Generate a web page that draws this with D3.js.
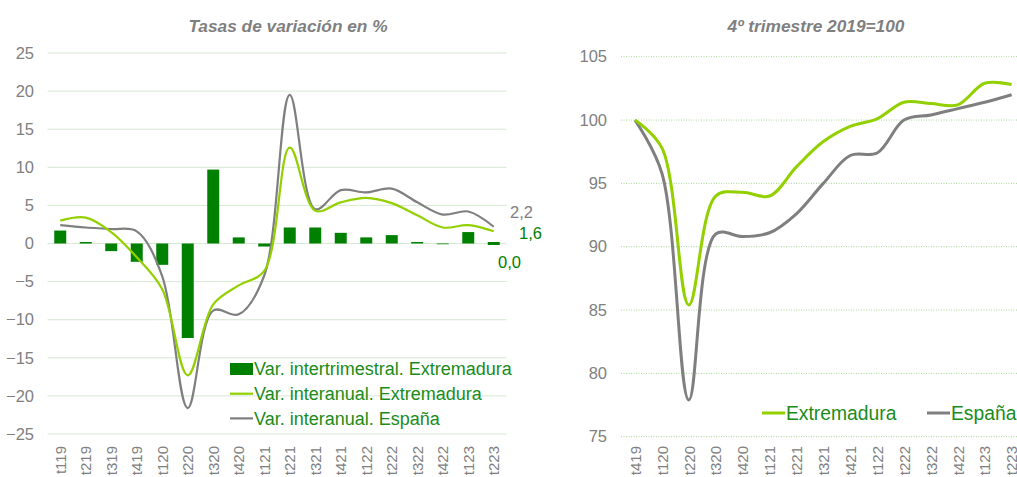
<!DOCTYPE html>
<html><head><meta charset="utf-8">
<script src="https://cdn.jsdelivr.net/npm/d3@7"></script>
<style>body{margin:0;background:#fff}svg{display:block;font-family:"Liberation Sans",Arial,sans-serif}</style>
</head><body><svg id="c" width="1017" height="477"></svg>
<script>
// ---- Left chart data ----
const catsL = ["t119","t219","t319","t419","t120","t220","t320","t420","t121","t221","t321","t421","t122","t222","t322","t422","t123","t223"];
const qoqExt = [1.7,0.2,-1.0,-2.4,-2.8,-12.4,9.7,0.8,-0.4,2.1,2.1,1.4,0.8,1.1,0.2,-0.1,1.5,0.0];
const yoyExt = [3.0,3.4,1.5,-1.8,-6.0,-17.3,-8.0,-5.5,-3.6,12.6,4.3,5.4,6.0,5.3,3.7,2.1,2.4,1.6];
const yoyEsp = [2.4,2.1,1.9,1.6,-4.3,-21.6,-8.8,-9.3,-4.2,19.5,4.5,7.0,6.7,7.2,5.4,3.8,4.2,2.2];
const ticksL = [-25,-20,-15,-10,-5,0,5,10,15,20,25];
// ---- Right chart data ----
const catsR = ["t419","t120","t220","t320","t420","t121","t221","t321","t421","t122","t222","t322","t422","t123","t223"];
const idxExt = [100,97.8,85.4,94.0,94.3,94.0,96.3,98.3,99.5,100.1,101.4,101.3,101.2,102.9,102.8];
const idxEsp = [100,95.8,77.9,91.0,90.8,91.1,92.6,95.0,97.2,97.4,100.0,100.4,100.9,101.4,102.0];
const ticksR = [75,80,85,90,95,100,105];

const cDark = "#008000", cLight = "#92d000", cGray = "#7f7f7f", cText = "#808080", cLeg = "#1a8c1a";
const svg = d3.select("#c");
const fmt = v => d3.format(".1f")(v).replace(".", ",");

// ================= LEFT =================
const xL = d3.scaleBand().domain(catsL).range([47.5, 506.5]).paddingInner(0.53).paddingOuter(0.265);
const yL = d3.scaleLinear().domain([-25, 25]).range([434, 53]);
const gL = svg.append("g");
gL.selectAll("line.grid").data(ticksL).join("line")
  .attr("x1", 47.5).attr("x2", 506.5).attr("y1", d => yL(d)).attr("y2", d => yL(d))
  .attr("stroke", "#d6e9d2").attr("stroke-width", 1);
const axL = d3.axisLeft(yL).tickValues(ticksL).tickSize(0).tickPadding(0);
gL.append("g").attr("transform", "translate(34,0)").call(axL)
  .call(g => g.select(".domain").remove())
  .selectAll("text").attr("fill", cText).attr("font-size", 16.5).attr("font-family", "Liberation Sans, Arial");
gL.selectAll("rect.bar").data(qoqExt).join("rect")
  .attr("x", (d, i) => xL(catsL[i])).attr("width", xL.bandwidth())
  .attr("y", d => Math.min(yL(d), yL(0) - (d === 0 ? 1.5 : 0)))
  .attr("height", d => Math.max(Math.abs(yL(d) - yL(0)), d === 0 ? 3 : 0))
  .attr("fill", cDark);
const lineL = arr => d3.line().x((d, i) => xL(catsL[i]) + xL.bandwidth() / 2).y(d => yL(d)).curve(d3.curveCatmullRom.alpha(0.5))(arr);
gL.append("path").attr("d", lineL(yoyEsp)).attr("fill", "none").attr("stroke", cGray).attr("stroke-width", 2.2);
gL.append("path").attr("d", lineL(yoyExt)).attr("fill", "none").attr("stroke", cLight).attr("stroke-width", 2.2);
const gxL = gL.append("g").attr("transform", "translate(0,446)").call(d3.axisBottom(xL).tickSize(0).tickPadding(0));
gxL.select(".domain").remove();
gxL.selectAll("text").attr("transform", "rotate(-90)").attr("text-anchor", "end")
  .attr("x", 0).attr("y", 0).attr("dy", "0.35em").attr("fill", cText).attr("font-size", 15).attr("font-family", "Liberation Sans, Arial");
// end labels
const last = catsL.length - 1;
gL.append("text").attr("x", 510).attr("y", 212).attr("dy", "0.35em").attr("fill", cText).attr("font-size", 16.5).text(fmt(yoyEsp[last]));
gL.append("text").attr("x", 519).attr("y", 233).attr("dy", "0.35em").attr("fill", cDark).attr("font-size", 16.5).text(fmt(yoyExt[last]));
gL.append("text").attr("x", 498).attr("y", 262).attr("dy", "0.35em").attr("fill", cDark).attr("font-size", 16.5).text(fmt(qoqExt[last]));
// title
gL.append("text").attr("x", 288).attr("y", 32).attr("text-anchor", "middle").attr("fill", cGray)
  .attr("font-size", 17.3).attr("font-weight", "bold").attr("font-style", "italic").text("Tasas de variación en %");
// legend
const legL = [
  {t: "Var. intertrimestral. Extremadura", type: "rect", c: cDark},
  {t: "Var. interanual. Extremadura", type: "line", c: cLight},
  {t: "Var. interanual. España", type: "line", c: cGray}
];
legL.forEach((d, i) => {
  const y = 369 + i * 24.7;
  if (d.type === "rect") gL.append("rect").attr("x", 230).attr("y", y - 6).attr("width", 23).attr("height", 12).attr("fill", d.c);
  else gL.append("line").attr("x1", 230).attr("x2", 253).attr("y1", y).attr("y2", y).attr("stroke", d.c).attr("stroke-width", 2.2);
  gL.append("text").attr("x", 254).attr("y", y).attr("dy", "0.36em").attr("fill", cLeg).attr("font-size", 18).text(d.t);
});

// ================= RIGHT =================
const xR = d3.scalePoint().domain(catsR).range([635, 635 + 26.9 * 14]);
const yR = d3.scaleLinear().domain([75, 105]).range([436.7, 56.7]);
const gR = svg.append("g");
gR.selectAll("line.grid").data(ticksR).join("line")
  .attr("x1", 621).attr("x2", 1025).attr("y1", d => yR(d)).attr("y2", d => yR(d))
  .attr("stroke", "#a9d69a").attr("stroke-width", 1).attr("stroke-dasharray", "1,1.5");
gR.append("g").attr("transform", "translate(607,0)").call(d3.axisLeft(yR).tickValues(ticksR).tickSize(0).tickPadding(0))
  .call(g => g.select(".domain").remove())
  .selectAll("text").attr("fill", cText).attr("font-size", 16.5).attr("font-family", "Liberation Sans, Arial");
const lineR = arr => d3.line().x((d, i) => xR(catsR[i])).y(d => yR(d)).curve(d3.curveCatmullRom.alpha(0.5))(arr);
gR.append("path").attr("d", lineR(idxEsp)).attr("fill", "none").attr("stroke", cGray).attr("stroke-width", 3);
gR.append("path").attr("d", lineR(idxExt)).attr("fill", "none").attr("stroke", cLight).attr("stroke-width", 3);
const gxR = gR.append("g").attr("transform", "translate(0,446)").call(d3.axisBottom(xR).tickSize(0).tickPadding(0));
gxR.select(".domain").remove();
gxR.selectAll("text").attr("transform", "rotate(-90)").attr("text-anchor", "end")
  .attr("x", 0).attr("y", 0).attr("dy", "0.35em").attr("fill", cText).attr("font-size", 15).attr("font-family", "Liberation Sans, Arial");
gR.append("text").attr("x", 816).attr("y", 32).attr("text-anchor", "middle").attr("fill", cGray)
  .attr("font-size", 17.3).attr("font-weight", "bold").attr("font-style", "italic").text("4º trimestre 2019=100");
const legR = [{t: "Extremadura", c: cLight, x: 762}, {t: "España", c: cGray, x: 927}];
legR.forEach(d => {
  gR.append("line").attr("x1", d.x).attr("x2", d.x + 23).attr("y1", 413).attr("y2", 413).attr("stroke", d.c).attr("stroke-width", 3);
  gR.append("text").attr("x", d.x + 24).attr("y", 413).attr("dy", "0.36em").attr("fill", cLeg).attr("font-size", 19.3).text(d.t);
});
</script></body></html>
